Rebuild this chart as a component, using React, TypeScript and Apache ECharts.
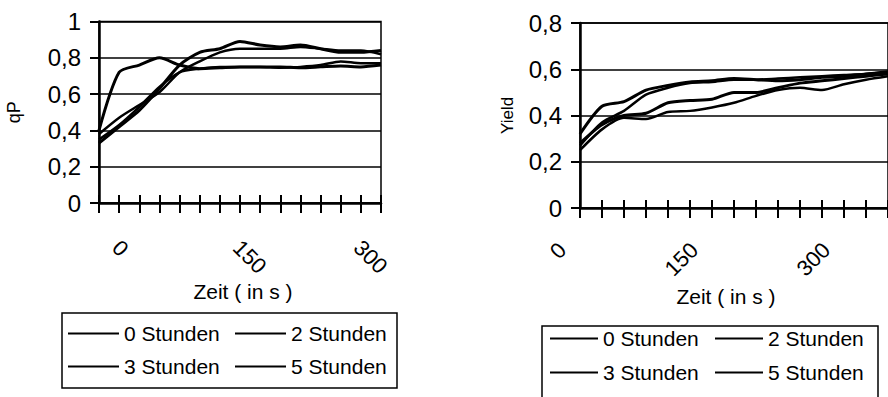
import React, { useEffect, useRef } from "react";
import * as echarts from "echarts";

const timeLabels = ["0", "25", "50", "75", "100", "125", "150", "175", "200", "225", "250", "275", "300", "325", "350"];
const seriesNames = ["0 Stunden", "2 Stunden", "3 Stunden", "5 Stunden"];

// qP chart
const qp0h = [0.33, 0.42, 0.51, 0.63, 0.76, 0.83, 0.85, 0.89, 0.87, 0.86, 0.87, 0.85, 0.83, 0.83, 0.84];
const qp2h = [0.38, 0.47, 0.54, 0.61, 0.72, 0.78, 0.83, 0.85, 0.85, 0.85, 0.86, 0.85, 0.84, 0.84, 0.82];
const qp3h = [0.40, 0.72, 0.76, 0.80, 0.76, 0.74, 0.745, 0.75, 0.75, 0.75, 0.745, 0.75, 0.755, 0.75, 0.76];
const qp5h = [0.35, 0.43, 0.53, 0.64, 0.72, 0.74, 0.75, 0.75, 0.75, 0.745, 0.75, 0.76, 0.78, 0.77, 0.77];

// Yield chart
const yield0h = [0.32, 0.44, 0.46, 0.51, 0.53, 0.545, 0.55, 0.56, 0.555, 0.55, 0.555, 0.565, 0.57, 0.58, 0.585];
const yield2h = [0.27, 0.37, 0.42, 0.49, 0.52, 0.54, 0.545, 0.555, 0.555, 0.56, 0.565, 0.57, 0.575, 0.58, 0.59];
const yield3h = [0.28, 0.36, 0.40, 0.41, 0.455, 0.465, 0.47, 0.50, 0.50, 0.52, 0.54, 0.55, 0.56, 0.57, 0.58];
const yield5h = [0.25, 0.34, 0.39, 0.385, 0.415, 0.42, 0.435, 0.455, 0.485, 0.51, 0.52, 0.51, 0.535, 0.555, 0.57];

const qpSeries = [qp0h, qp2h, qp3h, qp5h];
const yieldSeries = [yield0h, yield2h, yield3h, yield5h];
const lineWidths = [3, 2.5, 3, 2.5];

const FONT = "'Liberation Sans', Arial, sans-serif";
const fmt = (v: number) => String(Math.round(v * 10) / 10).replace(".", ",");

const G1 = { left: 99, top: 21.5, width: 282, height: 181.5 };
const G2 = { left: 580, top: 23, width: 313.6, height: 185 };

function mainX(gridIndex: number, rotate: number, align: string, padding: number[], margin: number, namePad: number[]) {
  return {
    type: "category",
    gridIndex,
    data: timeLabels,
    boundaryGap: false,
    position: "bottom",
    axisLine: { show: true, lineStyle: { color: "#000", width: 2.5 } },
    axisTick: { show: true, inside: false, length: 10, interval: 0, lineStyle: { color: "#000", width: 2 } },
    axisLabel: {
      interval: 5,
      rotate,
      align,
      verticalAlign: "top",
      padding,
      margin,
      fontFamily: FONT,
      fontSize: 22,
      color: "#000",
    },
    splitLine: { show: false },
    name: "Zeit ( in s )",
    nameLocation: "middle",
    nameGap: 78,
    nameTextStyle: { fontFamily: FONT, fontSize: 21, color: "#000", padding: namePad },
  };
}

function tickX(gridIndex: number, h: number) {
  return {
    type: "category",
    gridIndex,
    data: timeLabels,
    boundaryGap: false,
    position: "top",
    offset: -h,
    axisLine: { show: false, onZero: false },
    axisTick: { show: true, inside: false, length: 8, interval: 0, lineStyle: { color: "#000", width: 2 } },
    axisLabel: { show: false },
    splitLine: { show: false },
  };
}

function mainY(gridIndex: number, max: number, name: string, nameGap: number, nameSize: number) {
  return {
    type: "value",
    gridIndex,
    min: 0,
    max,
    interval: 0.2,
    axisLine: { show: true, lineStyle: { color: "#000", width: 2.5 } },
    axisTick: { show: true, inside: false, length: 9, lineStyle: { color: "#000", width: 2 } },
    axisLabel: { formatter: fmt, fontFamily: FONT, fontSize: 24, color: "#000", margin: 18 },
    splitLine: { show: true, lineStyle: { color: "#000", width: 1.5 } },
    name,
    nameLocation: "middle",
    nameGap,
    nameTextStyle: { fontFamily: FONT, fontSize: nameSize, color: "#000" },
  };
}

function legendCfg(left: number, top: number, width: number, padding: number[], itemGap: number, itemWidth: number, lineHeight: number) {
  return {
    data: seriesNames,
    left,
    top,
    width,
    orient: "horizontal",
    padding,
    itemGap,
    itemWidth,
    itemHeight: 2,
    icon: "rect",
    borderColor: "#000",
    borderWidth: 1.5,
    backgroundColor: "#fff",
    selectedMode: false,
    itemStyle: { color: "#000" },
    textStyle: { fontFamily: FONT, fontSize: 21, color: "#000", width: 99, lineHeight },
  };
}

export default function App() {
  const ref = useRef<HTMLDivElement>(null);
  useEffect(() => {
    if (!ref.current) return;
    const chart = echarts.init(ref.current, null, { renderer: "svg" });
    const series: any[] = [];
    qpSeries.forEach((d, i) => {
      series.push({
        type: "line",
        name: seriesNames[i],
        xAxisIndex: 0,
        yAxisIndex: 0,
        data: d,
        smooth: 0.25,
        symbol: "none",
        lineStyle: { color: "#000", width: lineWidths[i] },
        itemStyle: { color: "#000" },
      });
    });
    yieldSeries.forEach((d, i) => {
      series.push({
        type: "line",
        name: seriesNames[i],
        xAxisIndex: 2,
        yAxisIndex: 1,
        data: d,
        smooth: 0.25,
        symbol: "none",
        lineStyle: { color: "#000", width: lineWidths[i] },
        itemStyle: { color: "#000" },
      });
    });
    chart.setOption({
      animation: false,
      backgroundColor: "#fff",
      textStyle: { fontFamily: FONT },
      grid: [
        { ...G1, show: true, borderColor: "#000", borderWidth: 1.5, backgroundColor: "transparent" },
        { ...G2, show: true, borderColor: "#000", borderWidth: 1.5, backgroundColor: "transparent" },
      ],
      xAxis: [
        mainX(0, -45, "left", [0, 0, 0, 35], 8.5, [0, 0, 0, 6]),
        tickX(0, G1.height),
        mainX(1, 45, "right", [0, 36, 0, 0], 5, [0, 16, 0, 0]),
        tickX(1, G2.height),
      ],
      yAxis: [mainY(0, 1, "qP", 76, 18), mainY(1, 0.8, "Yield", 64, 17)],
      legend: [
        legendCfg(62, 313, 330, [10, 7, 11, 6], 12, 51, 20),
        legendCfg(542, 326, 325, [2, 11, 20, 8], 13, 48, 18),
      ],
      series,
    });
    return () => chart.dispose();
  }, []);
  return <div ref={ref} style={{ position: "absolute", left: 0, top: 0, width: 888, height: 397 }} />;
}
